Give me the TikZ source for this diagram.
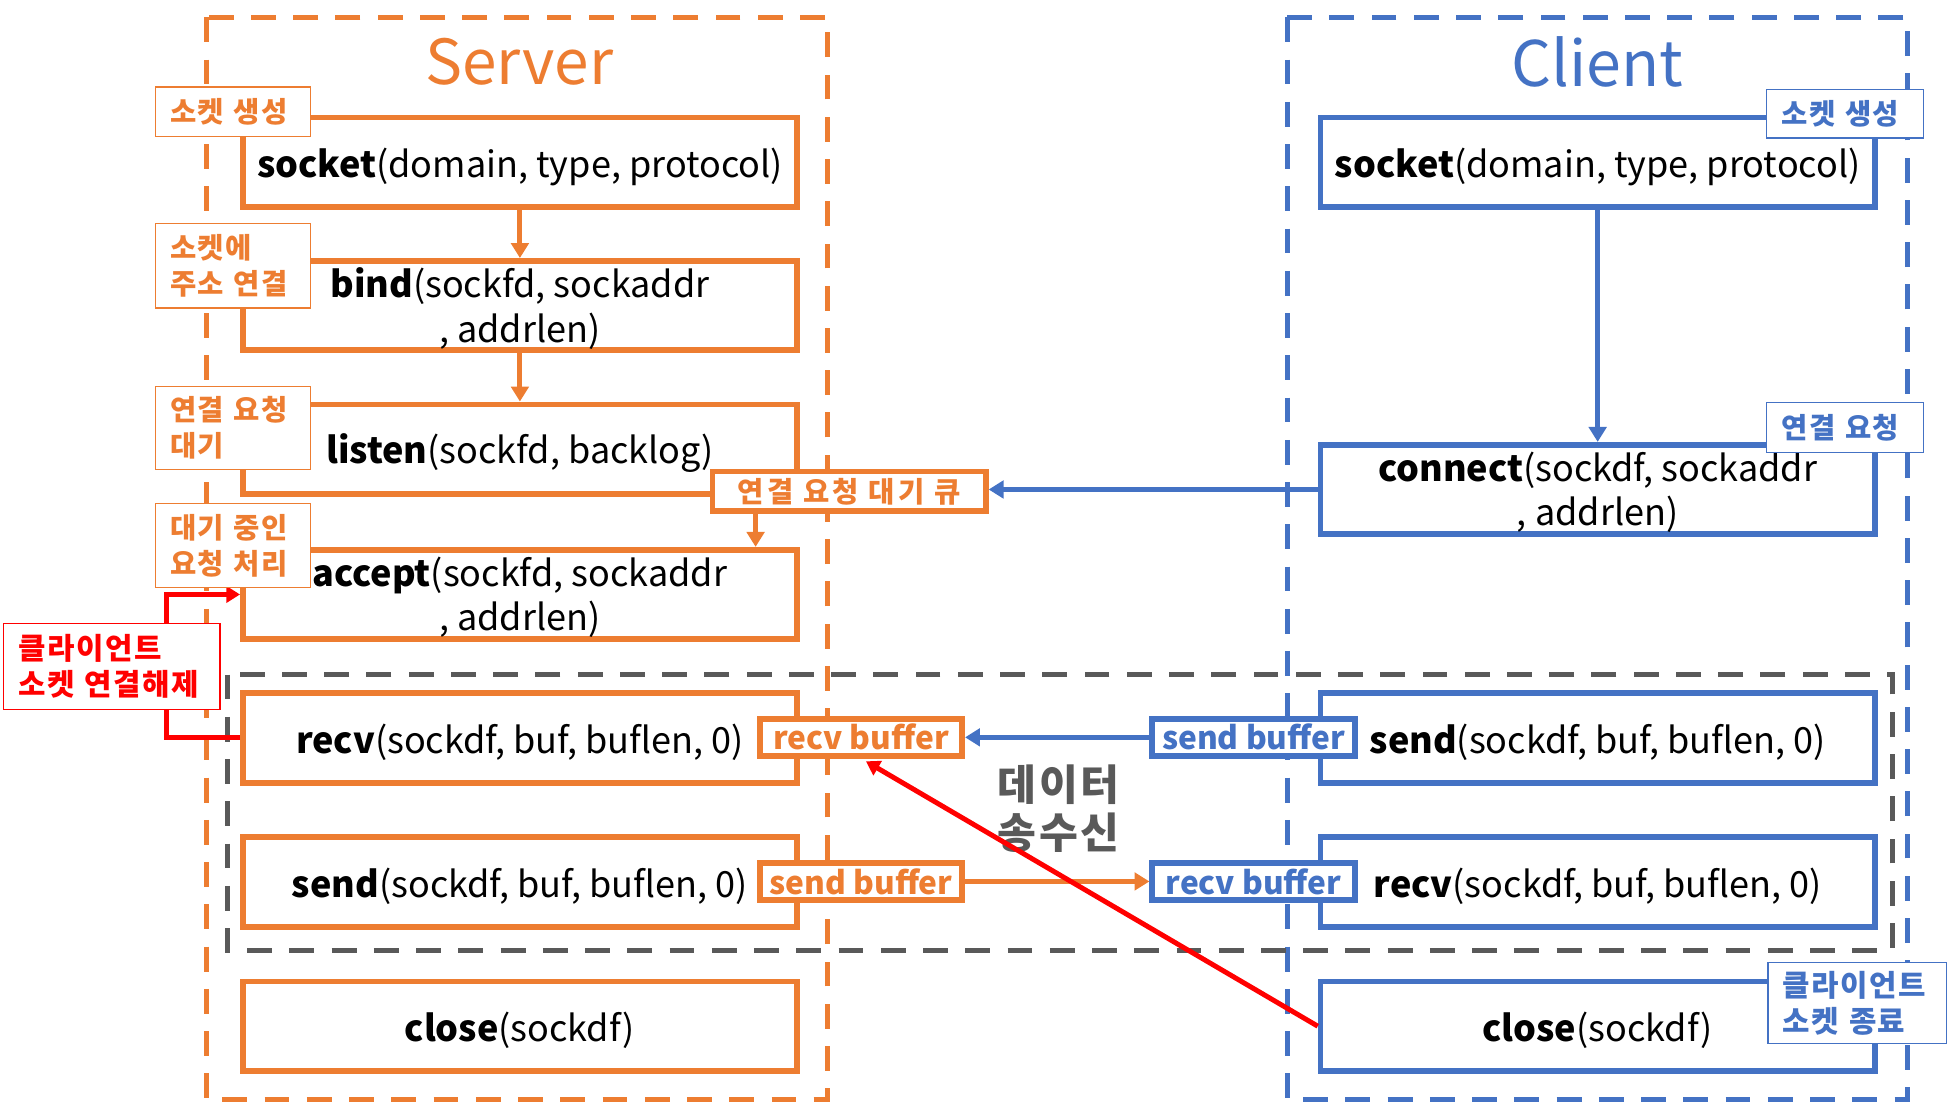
\documentclass[tikz,border=0pt]{standalone}
\usepackage{fontspec}
\setmainfont{Noto Sans CJK KR}
\usetikzlibrary{arrows.meta}
\definecolor{orn}{HTML}{ED7D31}
\definecolor{blu}{HTML}{4472C4}
\definecolor{gry}{HTML}{595959}
\definecolor{rd}{HTML}{FF0000}
\newcommand{\fsz}[2]{\fontsize{#1}{#2}\selectfont}
\newcommand{\lsp}[1]{\addfontfeature{LetterSpace=#1}}
\tikzset{
  fbox/.style={draw, line width=4.6pt, fill=white, minimum width=446pt, minimum height=72pt, inner sep=0pt, align=center, font=\fsz{29}{36}},
  oneline/.style={text height=31pt},
  twoline/.style={text depth=1pt},
  sf/.style={fbox, draw=orn},
  cf/.style={fbox, draw=blu},
  tagbox/.style={draw, line width=1pt, fill=white, font=\bfseries\fsz{23}{29}\lsp{5}, align=left, inner xsep=12pt, inner ysep=0pt},
  otag/.style={tagbox, draw=orn, text=orn, text width=101pt},
  btag/.style={tagbox, draw=blu, text=blu},
  buf/.style={draw, line width=4.6pt, fill=white, font=\bfseries\fsz{25.5}{28}, minimum width=163pt, minimum height=30pt, inner sep=0pt},
  arr/.style={line width=4pt, -{Triangle[length=12pt,width=14pt]}},
  cont/.style={line width=4pt, dash pattern=on 20pt off 14pt},
}
\begin{document}
\begin{tikzpicture}[x=1pt,y=-1pt]
\useasboundingbox (0,0) rectangle (1568,888);
% containers
\draw[cont, orn] (166,14) rectangle (666,885);
\draw[cont, blu] (1036,14) rectangle (1535,885);
\draw[cont, gry] (183,543) rectangle (1523,765);
% titles
\node[text=orn, font=\fsz{50}{60}] (stitle) at (418,50) {Server};
\node[text=blu, font=\fsz{50.5}{60}] (ctitle) at (1286,50) {Client};
% server functions
\node[sf, oneline] (ssock) at (418.5,130.5) {\textbf{socket}(domain, type, protocol)};
\node[sf, twoline] (sbind) at (418.5,246) {\textbf{bind}(sockfd, sockaddr\\, addrlen)};
\node[sf, oneline] (slisten) at (418.5,361.5) {\textbf{listen}(sockfd, backlog)};
\node[sf, twoline] (saccept) at (418.5,478.5) {\textbf{accept}(sockfd, sockaddr\\, addrlen)};
\node[sf, oneline] (srecv) at (418.5,594) {\textbf{recv}(sockdf, buf, buflen, 0)};
\node[sf, oneline] (ssend) at (418.5,710) {\textbf{send}(sockdf, buf, buflen, 0)};
\node[sf, oneline] (sclose) at (418.5,826) {\textbf{close}(sockdf)};
% client functions
\node[cf, oneline] (csock) at (1286,130.5) {\textbf{socket}(domain, type, protocol)};
\node[cf, twoline] (cconn) at (1286,394) {\textbf{connect}(sockdf, sockaddr\\, addrlen)};
\node[cf, oneline] (csend) at (1286,594) {\textbf{send}(sockdf, buf, buflen, 0)};
\node[cf, oneline] (crecv) at (1286,710) {\textbf{recv}(sockdf, buf, buflen, 0)};
\node[cf, oneline] (cclose) at (1286,826) {\textbf{close}(sockdf)};
% buffers / queue
\node[buf, draw=orn, text=orn, minimum width=220pt, minimum height=32pt, font=\bfseries\fsz{23}{28}\lsp{11}] (qbox) at (683.5,395.5) {연결 요청 대기 큐};
\node[buf, draw=orn, text=orn] (srbuf) at (693,593.5) {recv buffer};
\node[buf, draw=orn, text=orn] (ssbuf) at (693,709.5) {send buffer};
\node[buf, draw=blu, text=blu] (csbuf) at (1009,593.5) {send buffer};
\node[buf, draw=blu, text=blu] (crbuf) at (1009,709.5) {recv buffer};
% data text
\node[text=gry, font=\bfseries\fsz{34}{38}\lsp{6}, align=center] (dtxt) at (852,651) {데이터\\송수신};
% arrows
\draw[arr, orn] (ssock.south) -- (sbind.north);
\draw[arr, orn] (sbind.south) -- (slisten.north);
\draw[arr, orn] ([xshift=37pt]qbox.south west) -- ([xshift=37pt]qbox.south west |- saccept.north);
\draw[arr, blu] (csock.south) -- (cconn.north);
\draw[arr, blu] (cconn.west) -- (qbox.east |- cconn.west);
\draw[arr, blu] (csbuf.west) -- (srbuf.east);
\draw[arr, orn] (ssbuf.east) -- (crbuf.west);
\draw[rd, line width=4pt, -{Triangle[length=11pt,width=13pt]}] (srecv.west) -- ++(-59,0) |- (saccept.west);
\draw[rd, line width=4pt, -{Triangle[length=11pt,width=13pt]}] (cclose.west) -- ([xshift=4pt,yshift=-2pt]srbuf.south);
% tags
\node[otag, minimum height=40pt] (t1) at (187.5,90) {소켓 생성};
\node[otag, minimum height=68pt] (t2) at (187.5,214) {소켓에\\주소 연결};
\node[otag, minimum height=67pt] (t3) at (187.5,344.5) {연결 요청\\대기};
\node[otag, minimum height=68pt] (t4) at (187.5,439) {대기 중인\\요청 처리};
\node[tagbox, draw=rd, text=rd, text width=150pt, minimum height=69pt, font=\bfseries\fsz{24}{29}\lsp{5}] (tred) at (90,536.5) {클라이언트\\소켓 연결해제};
\node[btag, text width=102pt, minimum height=39pt] (b1) at (1485,91.5) {소켓 생성};
\node[btag, text width=102pt, minimum height=40pt] (b2) at (1485,344) {연결 요청};
\node[btag, text width=120pt, minimum height=65pt, font=\bfseries\fsz{24}{29}\lsp{5}] (b3) at (1495,807.5) {클라이언트\\소켓 종료};
\end{tikzpicture}
\end{document}
